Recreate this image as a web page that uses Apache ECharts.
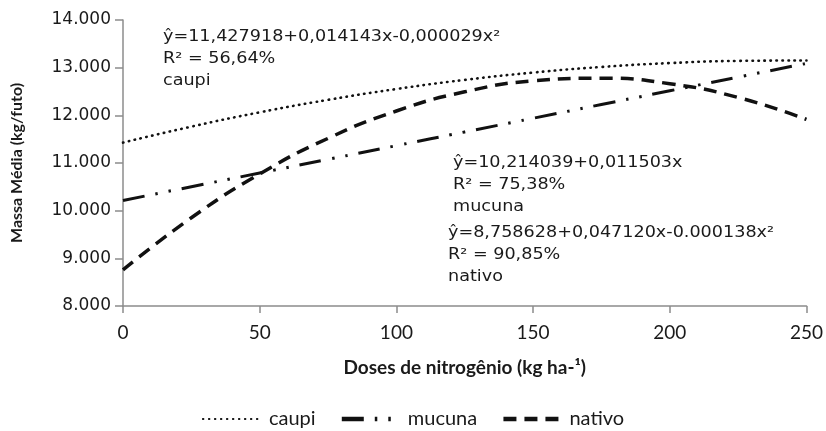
<!DOCTYPE html>
<html>
<head>
<meta charset="utf-8">
<script src="https://cdn.jsdelivr.net/npm/echarts@6/dist/echarts.min.js"></script>
<style>html,body{margin:0;padding:0;background:#fff}#c{width:826px;height:431px}</style>
</head>
<body>
<div id="c"></div>
<script>
// Data
var doses = [0, 25, 50, 75, 100, 125, 150, 175, 200, 225, 250];
var caupi = [11.428, 11.763, 12.063, 12.325, 12.552, 12.743, 12.897, 13.015, 13.096, 13.142, 13.151];
var mucuna = [10.214, 10.502, 10.789, 11.077, 11.364, 11.652, 11.939, 12.227, 12.515, 12.802, 13.090];
var nativo = [8.759, 9.851, 10.770, 11.517, 12.091, 12.493, 12.722, 12.779, 12.663, 12.375, 11.914];
var seriesNames = ['caupi', 'mucuna', 'nativo'];
var xTicks = [0, 50, 100, 150, 200, 250];
var yTicks = [8, 9, 10, 11, 12, 13, 14];
var annotations = [
  ['ŷ=11,427918+0,014143x-0,000029x²', 'R² = 56,64%', 'caupi'],
  ['ŷ=10,214039+0,011503x', 'R² = 75,38%', 'mucuna'],
  ['ŷ=8,758628+0,047120x-0.000138x²', 'R² = 90,85%', 'nativo']
];

function pairs(ys) { return doses.map(function (x, i) { return [x, ys[i]]; }); }

var chart = echarts.init(document.getElementById('c'), null, {renderer: 'canvas'});
var axisColor = '#8c8c8c';
var annPos = [[163, 26], [453, 152], [448, 222]];
var graphics = [];
annotations.forEach(function (lines, k) {
  graphics.push({
    type: 'text', left: annPos[k][0], top: annPos[k][1],
    scaleX: 1.1,
    style: {
      text: lines.join('\n'),
      font: '16px "DejaVu Sans"',
      lineHeight: 22,
      fill: '#1a1a1a'
    }
  });
});

chart.setOption({
  animation: false,
  backgroundColor: '#fff',
  grid: {left: 123, right: 19, top: 20, bottom: 125, containLabel: false},
  legend: {
    data: [
      {name: 'caupi'},
      {name: 'mucuna', lineStyle: {width: 4.5}},
      {name: 'nativo', lineStyle: {width: 4.5}}
    ],
    top: 404,
    left: 'center',
    itemWidth: 57,
    itemHeight: 12,
    itemGap: 24,
    itemStyle: {opacity: 0},
    textStyle: {fontFamily: 'Lato', fontSize: 20, color: '#1a1a1a', padding: [0, 0, 0, 4]}
  },
  xAxis: {
    type: 'value', min: 0, max: 250, interval: 50,
    name: 'Doses de nitrogênio (kg ha-¹)',
    nameLocation: 'middle', nameGap: 52,
    nameTextStyle: {fontFamily: 'Lato', fontWeight: 'bold', fontSize: 19, color: '#1a1a1a'},
    axisLine: {show: true, lineStyle: {color: axisColor, width: 1.5}},
    axisTick: {show: true, length: 7, lineStyle: {color: axisColor, width: 1.5}},
    axisLabel: {fontFamily: 'Lato', fontSize: 19, color: '#1a1a1a', margin: 17,
      formatter: function (v) { return xTicks.indexOf(v) >= 0 ? String(v) : ''; }},
    splitLine: {show: false}
  },
  yAxis: {
    type: 'value', min: 8, max: 14, interval: 1,
    name: 'Massa Média (kg/futo)',
    nameLocation: 'middle', nameGap: 98,
    nameTextStyle: {fontFamily: 'Lato', fontWeight: 'bold', fontSize: 16, color: '#1a1a1a'},
    axisLine: {show: true, lineStyle: {color: axisColor, width: 1.5}},
    axisTick: {show: true, length: 8, lineStyle: {color: axisColor, width: 1.5}},
    axisLabel: {fontFamily: 'DejaVu Sans', fontSize: 17, color: '#1a1a1a', margin: 12,
      formatter: function (v) { return yTicks.indexOf(v) >= 0 ? v.toFixed(3) : ''; }},
    splitLine: {show: false}
  },
  graphic: graphics,
  series: [
    {name: 'caupi', type: 'line', smooth: true, symbol: 'none', data: pairs(caupi),
      lineStyle: {color: '#111', width: 2.6, type: [0.5, 5.5], cap: 'round'}, itemStyle: {color: '#111'}},
    {name: 'mucuna', type: 'line', smooth: true, symbol: 'none', data: pairs(mucuna),
      lineStyle: {color: '#111', width: 3, type: [22, 11, 2.5, 11, 2.5, 11]}, itemStyle: {color: '#111'}},
    {name: 'nativo', type: 'line', smooth: true, symbol: 'none', data: pairs(nativo),
      lineStyle: {color: '#111', width: 3.5, type: [13, 8]}, itemStyle: {color: '#111'}}
  ]
});
</script>
</body>
</html>
